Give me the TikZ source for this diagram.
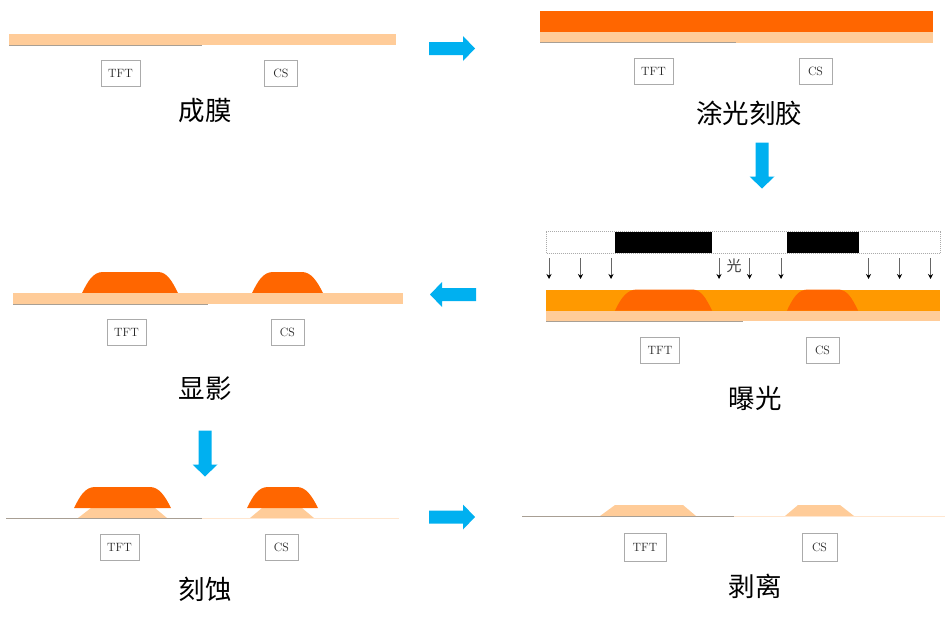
\documentclass[tikz,border=0pt]{standalone}
\usepackage{fontspec}
\newfontfamily\cjk{Noto Sans CJK SC}
\usetikzlibrary{arrows.meta,positioning,calc}
\definecolor{film}{HTML}{FFCC99}
\definecolor{resist}{HTML}{FF6600}
\definecolor{exposed}{HTML}{FF9900}
\definecolor{flowblue}{HTML}{00B0F0}
\definecolor{boxline}{HTML}{ABABAB}
\definecolor{gate}{HTML}{A89F94}
\definecolor{gatelight}{HTML}{FFE6CF}
\tikzset{
  >={Stealth[length=5pt,width=5pt]},
  areabox/.style={draw=boxline, line width=1pt, fill=white, inner sep=0pt,
                  minimum height=26pt, font=\fontsize{12}{14}\selectfont, text=black!85},
  tftbox/.style={areabox, minimum width=39pt},
  csbox/.style={areabox, minimum width=33pt},
  steplabel/.style={font=\cjk\fontsize{26.5}{30}\selectfont, text=black, inner sep=0pt},
  lightlabel/.style={font=\cjk\fontsize{15}{16}\selectfont, text=black!75, inner sep=0pt},
  filmfill/.style={fill=film, draw=none},
  resistfill/.style={fill=resist, draw=none},
  gateline/.style={draw=gate, line width=1pt},
  gatethin/.style={draw=gatelight, line width=1pt},
  rayline/.style={->, draw=black!60, line width=0.7pt, -{Stealth[length=5pt,width=5pt,black]}},
  blockarrow/.pic={
    \fill[flowblue] (-23,-6.5) -- (11,-6.5) -- (11,-12.5) -- (23,0)
      -- (11,12.5) -- (11,6.5) -- (-23,6.5) -- cycle;
  },
}
\begin{document}
\begin{tikzpicture}[x=1pt,y=-1pt]
\useasboundingbox (0,0) rectangle (949,621);

% Film deposition --------------------------------------------------------------
\fill[filmfill] (9,34) rectangle (396,45);
\draw[gateline] (9,45) -- (202,45);
\node[tftbox] (tftA) at (120.5,73) {TFT};
\node[csbox] (csA) at (281,73) {CS};
\node[steplabel] (stepA) at (205,111) {成膜};

% Resist coating ---------------------------------------------------------------
\fill[resistfill] (540,10.5) rectangle (933,32);
\fill[filmfill] (540,32) rectangle (933,42.5);
\draw[gateline] (540,42.5) -- (736,42.5);
\node[tftbox] (tftB) at (653.5,71) {TFT};
\node[csbox] (csB) at (815.5,71) {CS};
\node[steplabel] (stepB) at (749,113) {涂光刻胶};

% Exposure ---------------------------------------------------------------------
\draw[draw=boxline, densely dotted, line width=1pt, fill=white] (546,231.5) rectangle (940,253);
\fill[black] (614.5,231.5) rectangle (712,253);
\fill[black] (787,231.5) rectangle (859,253);
\foreach \x in {549,580.5,611,719,749.5,781,868.5,899.5,930.5}
  \draw[rayline] (\x,258) -- (\x,279);
\node[lightlabel] (light) at (734,266) {光};

\fill[fill=exposed] (546,289.5) rectangle (940,310.5);
\fill[resistfill] (615,310.5) .. controls (621,298) and (627,289.5) .. (637,289.5)
  -- (692,289.5) .. controls (701,289.5) and (706,298) .. (712,310.5) -- cycle;
\fill[resistfill] (787,310.5) .. controls (793,298) and (798,289.5) .. (808,289.5)
  -- (838,289.5) .. controls (847,289.5) and (852,298) .. (858,310.5) -- cycle;
\fill[filmfill] (546,310.5) rectangle (940,321);
\draw[gateline] (546,321) -- (743,321);
\node[tftbox] (tftC) at (660,350) {TFT};
\node[csbox] (csC) at (822.5,350) {CS};
\node[steplabel] (stepC) at (755,398) {曝光};

% Developing -------------------------------------------------------------------
\fill[resistfill] (82,293) .. controls (88,281) and (93,272) .. (103,272)
  -- (158,272) .. controls (167,272) and (172,281) .. (178,293) -- cycle;
\fill[resistfill] (252,293) .. controls (258,281) and (263,272) .. (273,272)
  -- (302,272) .. controls (311,272) and (317,281) .. (323,293) -- cycle;
\fill[filmfill] (13,293) rectangle (403,304);
\draw[gateline] (13,304) -- (208,304);
\node[tftbox] (tftD) at (126.5,332) {TFT};
\node[csbox] (csD) at (287.5,332) {CS};
\node[steplabel] (stepD) at (205,389) {显影};

% Etching ----------------------------------------------------------------------
\fill[filmfill] (78,518) -- (91,508) -- (155,508) -- (167,518) -- cycle;
\fill[filmfill] (250,518) -- (262,508) -- (302,508) -- (314,518) -- cycle;
\fill[resistfill] (74,508) .. controls (80,496) and (85,487) .. (95,487)
  -- (150,487) .. controls (159,487) and (165,496) .. (171,508) -- cycle;
\fill[resistfill] (247,508) .. controls (253,496) and (258,487) .. (268,487)
  -- (297,487) .. controls (306,487) and (312,496) .. (318,508) -- cycle;
\draw[gateline] (6,518.5) -- (202,518.5);
\draw[gatethin] (202,518.5) -- (399,518.5);
\node[tftbox] (tftE) at (119.5,547) {TFT};
\node[csbox] (csE) at (281.5,547) {CS};
\node[steplabel] (stepE) at (205,589) {刻蚀};

% Stripping --------------------------------------------------------------------
\fill[filmfill] (600,516) -- (615,505) -- (683,505) -- (696,516) -- cycle;
\fill[filmfill] (785,516) -- (798,505) -- (840,505) -- (854,516) -- cycle;
\draw[gateline] (522,516.5) -- (734,516.5);
\draw[gatethin] (734,516.5) -- (945,516.5);
\node[tftbox, minimum width=42pt, minimum height=28pt] (tftF) at (645,547) {TFT};
\node[csbox, minimum width=35pt, minimum height=28pt] (csF) at (819.5,547) {CS};
\node[steplabel] (stepF) at (755,586) {剥离};

% Process arrows
\pic (flowA) at (452,48.5) {blockarrow};
\pic[rotate=-90] (flowB) at (762,165.5) {blockarrow};
\pic[rotate=180] (flowC) at (453,294.5) {blockarrow};
\pic[rotate=-90] (flowD) at (205,453.5) {blockarrow};
\pic (flowE) at (452,517) {blockarrow};

\end{tikzpicture}
\end{document}
